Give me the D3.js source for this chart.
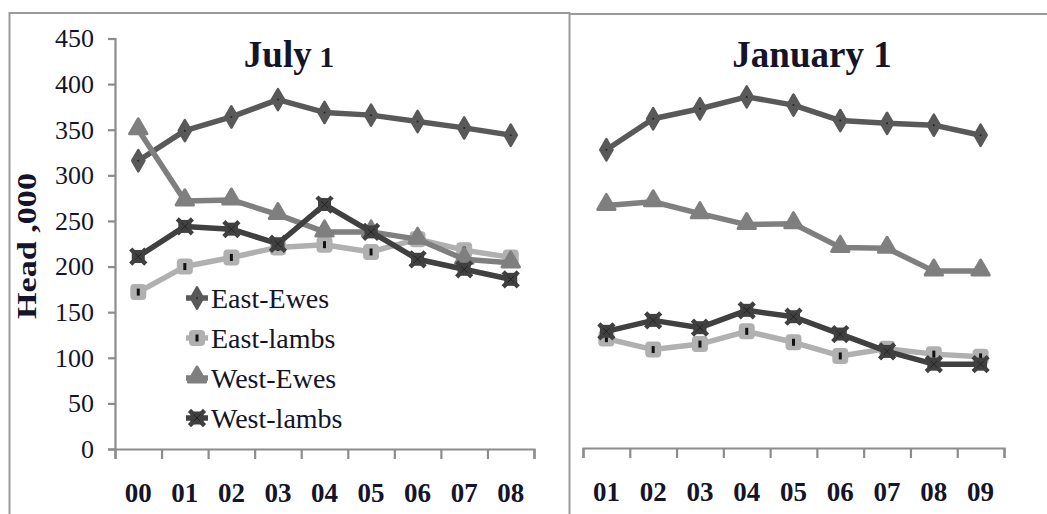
<!DOCTYPE html>
<html>
<head>
<meta charset="utf-8">
<script src="https://cdn.jsdelivr.net/npm/d3@7"></script>
<style>
  html, body { margin: 0; padding: 0; background: #fff; }
  svg { display: block; }
  svg text { font-family: "Liberation Serif", "DejaVu Serif", serif !important; }
</style>
</head>
<body>
<svg id="chart" width="1047" height="514"></svg>
<script>
// values (head, thousands)
const seriesNames = ["East-Ewes", "East-lambs", "West-Ewes", "West-lambs"];
const yTicks = [0, 50, 100, 150, 200, 250, 300, 350, 400, 450];

const julyYears = ["00", "01", "02", "03", "04", "05", "06", "07", "08"];
const julyEastEwes = [316, 349, 364, 383, 369, 366, 359, 352, 344];
const julyEastLambs = [172, 200, 210, 221, 224, 216, 230, 218, 210];
const julyWestEwes = [350, 272, 273, 257, 238, 238, 230, 208, 204];
const julyWestLambs = [211, 244, 241, 225, 268, 238, 208, 197, 186];

const janYears = ["01", "02", "03", "04", "05", "06", "07", "08", "09"];
const janEastEwes = [328, 362, 373, 386, 377, 360, 357, 355, 344];
const janEastLambs = [121, 109, 115, 129, 117, 102, 110, 104, 101];
const janWestEwes = [267, 271, 258, 246, 247, 221, 220, 195, 195];
const janWestLambs = [129, 141, 133, 152, 145, 126, 107, 93, 93];

(function () {
    const svg = d3.select("#chart");
    const frame = "#9a9a9a";
    const axisCol = "#8c8c8c";
    const textCol = "#14142a";

    const color = d3.scaleOrdinal()
        .domain(seriesNames)
        .range(["#595959", "#b0b0b0", "#7f7f7f", "#404040"]);

    const y = d3.scaleLinear().domain([0, 450]).range([449, 38.5]);

    // panel frames
    svg.append("path")
        .attr("d", "M9.5,514 V13 H569.5 V514 M569.5,14 H1047")
        .attr("fill", "none").attr("stroke", frame).attr("stroke-width", 2);

    // marker drawing
    function marker(g, name) {
        const c = color(name);
        if (name === "East-Ewes") {
            g.append("path").attr("d", d3.symbol(d3.symbolDiamond, 130)())
                .attr("fill", c).attr("stroke", c).attr("stroke-width", 2.5)
                .attr("stroke-linejoin", "round");
            g.append("circle").attr("r", 1).attr("fill", "#222");
        } else if (name === "East-lambs") {
            g.append("rect").attr("x", -8).attr("y", -8).attr("width", 16).attr("height", 16)
                .attr("rx", 4).attr("fill", c);
            g.append("rect").attr("x", -1.5).attr("y", -3.5).attr("width", 3).attr("height", 7)
                .attr("fill", "#111");
        } else if (name === "West-Ewes") {
            g.append("path").attr("d", d3.symbol(d3.symbolTriangle, 130)())
                .attr("transform", "translate(0,-1)")
                .attr("fill", c).attr("stroke", c).attr("stroke-width", 3)
                .attr("stroke-linejoin", "round");
        } else {
            g.append("rect").attr("x", -6.5).attr("y", -6.5).attr("width", 13).attr("height", 13)
                .attr("fill", c);
            g.append("path").attr("d", d3.symbol(d3.symbolX, 150)())
                .attr("fill", "none").attr("stroke", c).attr("stroke-width", 4.5);
            g.append("path").attr("d", d3.symbol(d3.symbolX, 30)())
                .attr("fill", "none").attr("stroke", "#222").attr("stroke-width", 1);
        }
    }

    function drawPanel(years, cols, x0, x1, axisY, title, titleX, showY) {
        const x = d3.scaleBand().domain(years).range([x0, x1]);
        const edges = d3.scaleLinear().domain([0, years.length]).range([x0, x1]);
        const g = svg.append("g");

        // x axis: tick marks at band edges
        const xa = g.append("g").attr("transform", `translate(0,${axisY})`)
            .call(d3.axisBottom(edges).ticks(years.length).tickFormat("").tickSize(10).tickSizeOuter(10));
        xa.selectAll("path, line").attr("stroke", axisCol).attr("stroke-width", 2.2);

        // x labels
        const xl = g.append("g").attr("transform", `translate(0,${axisY})`)
            .call(d3.axisBottom(x).tickSize(0).tickPadding(34));
        xl.select(".domain").remove();
        xl.selectAll("text").attr("font-size", 27).attr("font-weight", "bold")
            .attr("fill", textCol).attr("dy", "0.71em");

        if (showY) {
            const ya = g.append("g").attr("transform", `translate(${x0},0)`)
                .call(d3.axisLeft(y).tickValues(yTicks).tickSize(7).tickSizeOuter(7).tickPadding(14));
            ya.selectAll("path, line").attr("stroke", axisCol).attr("stroke-width", 2.2);
            ya.selectAll("text").attr("font-size", 26).attr("fill", textCol);
        }

        // series lines and markers
        const line = d3.line()
            .x((d, i) => x(years[i]) + x.bandwidth() / 2)
            .y(d => y(d));

        seriesNames.forEach((name, k) => {
            const vals = cols[k];
            g.append("path").datum(vals)
                .attr("d", line)
                .attr("fill", "none")
                .attr("stroke", color(name))
                .attr("stroke-width", 5.5)
                .attr("stroke-linejoin", "round");
            vals.forEach((v, i) => {
                const m = g.append("g")
                    .attr("transform", `translate(${x(years[i]) + x.bandwidth() / 2},${y(v)})`);
                marker(m, name);
            });
        });

        // title
        const t = g.append("text")
            .attr("x", titleX).attr("y", 67)
            .attr("text-anchor", "middle")
            .attr("font-weight", "bold").attr("font-size", 37)
            .attr("fill", textCol);
        t.append("tspan").text(title[0]);
        t.append("tspan").attr("font-size", title[2]).text(title[1]);
        return g;
    }

    drawPanel(julyYears, [julyEastEwes, julyEastLambs, julyWestEwes, julyWestLambs],
        115, 534, 449, ["July", " 1", 30], 289, true);
    drawPanel(janYears, [janEastEwes, janEastLambs, janWestEwes, janWestLambs],
        583, 1004, 448, ["January", " 1", 37], 812, false);

    // y axis title
    svg.append("text")
        .attr("transform", "translate(36,246) rotate(-90)")
        .attr("text-anchor", "middle")
        .attr("font-weight", "bold").attr("font-size", 27)
        .attr("textLength", 146).attr("lengthAdjust", "spacingAndGlyphs")
        .attr("fill", textCol)
        .text("Head ,000");

    // legend
    const legend = svg.append("g").attr("transform", "translate(197,298)");
    seriesNames.forEach((name, i) => {
        const row = legend.append("g").attr("transform", `translate(0,${i * 40})`);
        row.append("line").attr("x1", -11).attr("x2", 11)
            .attr("stroke", color(name)).attr("stroke-width", 5.5);
        marker(row.append("g"), name);
        row.append("text").attr("x", 14).attr("y", 10)
            .attr("font-size", 28).attr("fill", textCol)
            .text(name);
    });
})();
</script>
</body>
</html>
